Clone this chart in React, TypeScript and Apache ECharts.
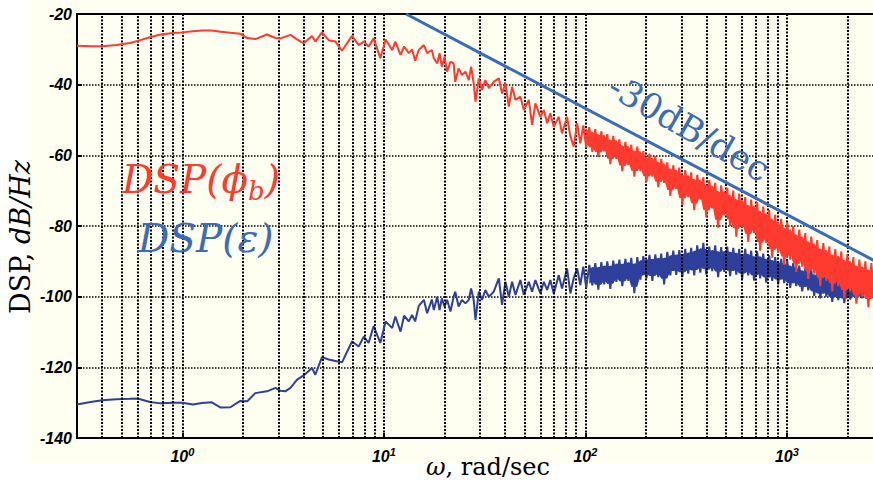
import React, { useEffect, useRef } from 'react';
import * as echarts from 'echarts';

// Frequencies (rad/sec) shared by both spectra
const freq = [
  0.3, 0.35, 0.4, 0.47, 0.55, 0.6, 0.69, 0.78, 0.9, 1.0,
  1.13, 1.25, 1.4, 1.55, 1.73, 1.94, 2.1, 2.3, 2.63, 2.9,
  3.06, 3.24, 3.44, 3.71, 4.0, 4.4, 4.57, 4.93, 5.32, 5.75,
  6.2, 6.95, 7.5, 7.95, 8.4, 8.9, 9.6, 10.2, 11.0, 11.4,
  12.1, 12.6, 13.3, 13.8, 14.3, 14.9, 15.8, 16.4, 17.3, 17.7,
  18.4, 18.9, 19.4, 20.0, 20.6, 21.4, 22.2, 22.6, 23.5, 24.4,
  25.4, 26.4, 27.1, 27.9, 28.5, 29.6, 30.7, 31.9, 33.2, 35.1,
  37.2, 38.6, 40.1, 41.7, 43.3, 45, 47.6, 49.5, 52.4, 54.4,
  56.5, 59.8, 62.2, 64.6, 67, 69.7, 73.8, 76.6, 81.1, 84.3,
  87.5, 91, 94.4,
  97.7, 101, 104.6, 108.3, 112, 116, 120, 124, 128.5, 133,
  137.5, 142.5, 147.5, 152.5, 158, 163.5, 169, 175, 181, 187.5,
  194, 201, 208, 215, 222.5, 230, 238, 246, 255, 264,
  273, 282.5, 292.5, 303, 313, 324, 335, 347, 359, 372,
  385, 398, 412, 426, 441, 456, 472, 489, 506, 523,
  542, 561, 580, 600, 621, 643, 665, 688, 712, 737,
  763, 790, 817, 846, 875, 906, 937, 970, 1004, 1039,
  1075, 1113, 1152, 1192, 1234, 1277, 1321, 1367, 1415, 1465,
  1516, 1569, 1624, 1680, 1739, 1800, 1863, 1928, 1995, 2065,
  2137, 2212, 2289, 2369, 2452, 2538, 2626, 2718, 2813, 2911,
  3000,
];

// DSP(phi_b), dB/Hz
const dspPhiB = [
  -29.0, -29.1, -29.1, -28.8, -28.2, -27.6, -26.6, -25.8, -25.4, -25.2,
  -24.9, -24.7, -24.7, -25.0, -25.3, -25.6, -26.8, -27.1, -25.8, -26.8,
  -26.9, -26.4, -25.9, -27.2, -28.3, -26.2, -27.8, -25.2, -27.4, -27.8,
  -30.4, -26.2, -28.8, -27.8, -29.2, -26.9, -32.5, -27.2, -30.2, -27.8,
  -31.6, -29.2, -31.1, -30.0, -33.2, -30.2, -28.8, -31.1, -30.2, -32.5,
  -34.0, -31.1, -34.9, -32.1, -36.3, -33.5, -34.0, -39.2, -35.4, -37.3,
  -36.3, -38.7, -34.9, -39.6, -44.8, -38.2, -41.5, -38.7, -41.0, -39.2,
  -38.2, -42.5, -39.6, -46.2, -40.6, -44.3, -43.4, -47.2, -44.3, -51.4,
  -45.3, -49.1, -47.2, -50.9, -48.1, -51.9, -49.1, -53.8, -49.1, -54.7,
  -57.5, -50.9, -56.6,
  -51.5, -57.8, -52.0, -59.0, -52.6, -60.5, -53.2, -58.8, -54.0, -62.5,
  -54.5, -61.0, -55.5, -64.5, -56.2, -62.8, -57.0, -66.0, -57.5, -64.5,
  -58.8, -67.5, -59.5, -66.0, -60.2, -69.0, -61.0, -67.8, -62.0, -71.5,
  -62.8, -69.5, -63.5, -74.0, -64.2, -71.8, -64.8, -75.5, -65.5, -72.5,
  -66.2, -77.5, -67.0, -75.0, -67.8, -80.5, -68.5, -77.0, -69.2, -80.0,
  -70.0, -83.0, -70.8, -80.5, -71.8, -84.5, -72.5, -82.0, -73.2, -87.0,
  -74.5, -84.8, -75.5, -89.0, -76.8, -87.5, -78.0, -91.0, -79.0, -89.5,
  -80.0, -93.0, -81.0, -91.5, -82.0, -95.0, -83.0, -93.5, -84.0, -97.0,
  -84.8, -95.5, -85.8, -98.5, -86.5, -97.0, -87.2, -100.5, -88.0, -98.5,
  -88.8, -102.0, -89.5, -100.0, -90.0, -103.0, -90.5, -101.5, -91.0, -104.0,
  -91.5,
];

// DSP(epsilon), dB/Hz
const dspEps = [
  -130.5, -129.8, -129.3, -129.0, -128.9, -128.8, -129.8, -130.2, -130.0, -130.0,
  -130.5, -130.1, -129.9, -131.4, -131.3, -129.5, -129.6, -127.3, -126.8, -125.8,
  -126.6, -126.8, -125.8, -123.5, -122.3, -120.2, -122.1, -117.1, -117.8, -118.2,
  -118.6, -112.7, -114.1, -111.3, -113.1, -108.3, -113.1, -107.0, -108.9, -105.6,
  -109.9, -105.4, -107.0, -105.2, -107.0, -102.6, -100.9, -104.7, -100.8, -103.8,
  -100.0, -103.8, -100.5, -102.8, -100.9, -104.2, -100.0, -98.6, -102.8, -100.9,
  -101.9, -100.9, -97.7, -100.9, -106.6, -98.6, -100.9, -98.1, -100.0, -98.6,
  -94.8, -102.3, -95.8, -100.0, -95.8, -99.5, -95.3, -99.5, -95.8, -98.6,
  -95.3, -99.1, -95.8, -98.1, -95.3, -99.1, -93.9, -97.7, -92.0, -99.1,
  -94.8, -92.0, -96.7,
  -91.5, -97.5, -91.0, -96.8, -90.5, -98.0, -90.2, -96.5, -90.0, -97.8,
  -89.8, -95.8, -89.5, -97.0, -89.3, -95.5, -89.0, -99.0, -88.8, -95.2,
  -88.5, -94.8, -88.2, -95.5, -88.0, -94.5, -87.8, -96.5, -87.3, -94.0,
  -87.0, -93.8, -86.8, -94.5, -86.5, -93.5, -86.2, -94.0, -85.5, -93.2,
  -84.8, -93.8, -85.8, -92.8, -85.5, -94.5, -86.0, -93.0, -85.8, -94.2,
  -86.2, -93.8, -86.5, -95.0, -86.5, -94.0, -87.0, -95.5, -87.2, -94.8,
  -87.8, -96.0, -88.3, -95.5, -88.8, -96.5, -89.3, -96.2, -89.8, -97.5,
  -90.5, -97.0, -91.2, -98.5, -91.8, -98.2, -92.3, -99.8, -92.8, -100.5,
  -93.3, -100.0, -93.8, -101.5, -94.2, -101.0, -94.5, -101.8, -94.8, -100.8,
  -95.0, -101.2, -94.8, -100.5, -94.2, -100.2, -93.8, -99.8, -93.2, -99.5,
  -93.0,
];

// -30 dB/dec reference line end points
const slopeW = [12.9, 3000];
const slopeDb = [-20, -91.1];

// Minor vertical grid positions (log axis)
const minorGridX = [
  0.4, 0.5, 0.6, 0.7, 0.8, 0.9,
  2, 3, 4, 5, 6, 7, 8, 9,
  20, 30, 40, 50, 60, 70, 80, 90,
  200, 300, 400, 500, 600, 700, 800, 900,
  2000,
];

const X_MIN = 0.3;
const X_MAX = 3000;
const Y_MIN = -140;
const Y_MAX = -20;
const Y_STEP = 20;

const RED = '#ff3a2e';
const NAVY = '#2f3f9c';
const STEEL = '#3b6cb5';
const CREAM = '#fefef1';
const SERIF = '"DejaVu Serif", "Liberation Serif", serif';
const SANS = '"Liberation Sans", Arial, sans-serif';

function pairs(ys: number[]) {
  return freq.map((w, i) => [w, ys[i]]);
}

// band outline built from the read values (rolling min / max of neighbours)
function band(ys: number[], startW: number) {
  const upper: number[][] = [];
  const lower: number[][] = [];
  for (let i = 0; i < freq.length; i++) {
    if (freq[i] < startW) continue;
    const a = ys[Math.max(0, i - 1)];
    const b = ys[i];
    const c = ys[Math.min(ys.length - 1, i + 1)];
    const mn = Math.min(a, b, c);
    const mx = Math.max(a, b, c);
    const r = mx - mn;
    upper.push([freq[i], mx - 0.18 * r]);
    lower.push([freq[i], mn + 0.18 * r]);
  }
  return { upper, lower };
}

export default function App() {
  const ref = useRef<HTMLDivElement>(null);

  useEffect(() => {
    document.body.style.margin = '0';
    const chart = echarts.init(ref.current!, undefined, { renderer: 'svg' });

    const redBand = band(dspPhiB, 100);
    const blueBand = band(dspEps, 104);

    const bandSeries = (name: string, b: { upper: number[][]; lower: number[][] }, color: string, z: number) => ({
      type: 'custom', name, coordinateSystem: 'cartesian2d', data: [[b.upper[0][0], b.upper[0][1]]],
      silent: true, clip: true, z,
      renderItem: (_params: any, api: any) => {
        const pts = b.upper.map((p) => api.coord(p)).concat(
          b.lower.slice().reverse().map((p) => api.coord(p)),
        );
        return { type: 'polygon', shape: { points: pts }, style: { fill: color, stroke: 'none' } };
      },
    });

    const fmtX = (v: number) => {
      const e = Math.log10(v);
      const r = Math.round(e);
      if (Math.abs(e - r) > 1e-6) return '';
      return `{b|10}{s|${r}}`;
    };

    const option: any = {
      animation: false,
      backgroundColor: '#ffffff',
      grid: {
        left: 77, top: 14, right: -10, bottom: 50,
        show: true, borderColor: '#000', borderWidth: 2,
        backgroundColor: 'transparent',
        containLabel: false, outerBoundsMode: 'none',
      },
      xAxis: {
        type: 'log', logBase: 10, min: X_MIN, max: X_MAX,
        axisLine: { show: false },
        axisTick: { show: true, inside: true, length: 5, lineStyle: { color: '#000', width: 2 } },
        axisLabel: {
          margin: 8, showMinLabel: false, showMaxLabel: false, formatter: fmtX,
          fontFamily: SANS, fontWeight: 'bold', fontStyle: 'italic', fontSize: 16, color: '#000',
          rich: {
            b: { fontFamily: SANS, fontWeight: 'bold', fontStyle: 'italic', fontSize: 16, lineHeight: 20, color: '#000' },
            s: { fontFamily: SANS, fontWeight: 'bold', fontStyle: 'italic', fontSize: 11, lineHeight: 11, color: '#000', verticalAlign: 'top' },
          },
        },
        splitLine: { show: true, lineStyle: { color: '#000', type: [2, 1.5], width: 2 } },
      },
      yAxis: {
        type: 'value', min: Y_MIN, max: Y_MAX, interval: Y_STEP,
        axisLine: { show: false },
        axisTick: { show: true, inside: true, length: 5, lineStyle: { color: '#000', width: 2 } },
        axisLabel: { margin: 5, fontFamily: SANS, fontWeight: 'bold', fontStyle: 'italic', fontSize: 16, color: '#000' },
        splitLine: { show: true, lineStyle: { color: '#000', type: [1.5, 1.5], width: 1.5 } },
      },
      graphic: [
        { type: 'rect', z: -10, silent: true, shape: { x: 30, y: 0, width: 843, height: 463 }, style: { fill: CREAM } },
        {
          type: 'text', z: 100, x: 20, y: 237, rotation: Math.PI / 2,
          style: {
            text: '{n|DSP, }{i|dB/Hz}', align: 'center', verticalAlign: 'middle',
            rich: {
              n: { fontFamily: SERIF, fontSize: 27, fill: '#000' },
              i: { fontFamily: SERIF, fontSize: 27, fontStyle: 'italic', fill: '#000' },
            },
          },
        },
        {
          type: 'text', z: 100, x: 488, y: 467,
          style: {
            text: '{i|ω}{n|, rad/sec}', align: 'center', verticalAlign: 'middle',
            rich: {
              n: { fontFamily: SERIF, fontSize: 24, fill: '#000' },
              i: { fontFamily: SERIF, fontSize: 24, fontStyle: 'italic', fill: '#000' },
            },
          },
        },
        {
          type: 'text', z: 100, x: 122, y: 154,
          style: {
            text: '{a|DSP(ϕ}{s|b}{a|)}', align: 'left', verticalAlign: 'top',
            rich: {
              a: { fontFamily: SERIF, fontSize: 39, fontStyle: 'italic', lineHeight: 50, fill: RED },
              s: { fontFamily: SERIF, fontSize: 26, fontStyle: 'italic', lineHeight: 26, verticalAlign: 'bottom', fill: RED },
            },
          },
        },
        {
          type: 'text', z: 100, x: 138, y: 215,
          style: {
            text: '{a|DSP(ε)}', align: 'left', verticalAlign: 'top',
            rich: {
              a: { fontFamily: SERIF, fontSize: 39, fontStyle: 'italic', lineHeight: 46, fill: STEEL },
            },
          },
        },
        {
          type: 'text', z: 100, x: 689, y: 128, rotation: -0.52,
          style: { text: '-30dB/dec', fontFamily: SERIF, fontSize: 35, fill: STEEL, align: 'center', verticalAlign: 'middle' },
        },
      ],
      series: [
        {
          type: 'line', name: 'grid', data: [[1, -130]], symbol: 'none', showSymbol: false,
          lineStyle: { opacity: 0 }, silent: true, z: 1,
          markLine: {
            silent: true, symbol: ['none', 'none'], label: { show: false },
            lineStyle: { color: '#000', type: [2, 1.5], width: 2 },
            emphasis: { disabled: true },
            data: minorGridX.map((v) => ({ xAxis: v })),
          },
        },
        bandSeries('eps-band', blueBand, NAVY, 3),
        {
          type: 'line', name: 'DSP(eps)', data: pairs(dspEps), symbol: 'none', showSymbol: false,
          lineStyle: { color: NAVY, width: 2 }, silent: true, z: 4,
        },
        bandSeries('phi-band', redBand, RED, 5),
        {
          type: 'line', name: 'DSP(phi_b)', data: pairs(dspPhiB), symbol: 'none', showSymbol: false,
          lineStyle: { color: RED, width: 2 }, silent: true, z: 6,
        },
        {
          type: 'line', name: 'slope', data: slopeW.map((w, i) => [w, slopeDb[i]]), symbol: 'none', showSymbol: false,
          lineStyle: { color: STEEL, width: 3 }, silent: true, z: 7,
        },
      ],
    };

    chart.setOption(option);
    return () => chart.dispose();
  }, []);

  return <div ref={ref} style={{ width: 873, height: 488 }} />;
}
